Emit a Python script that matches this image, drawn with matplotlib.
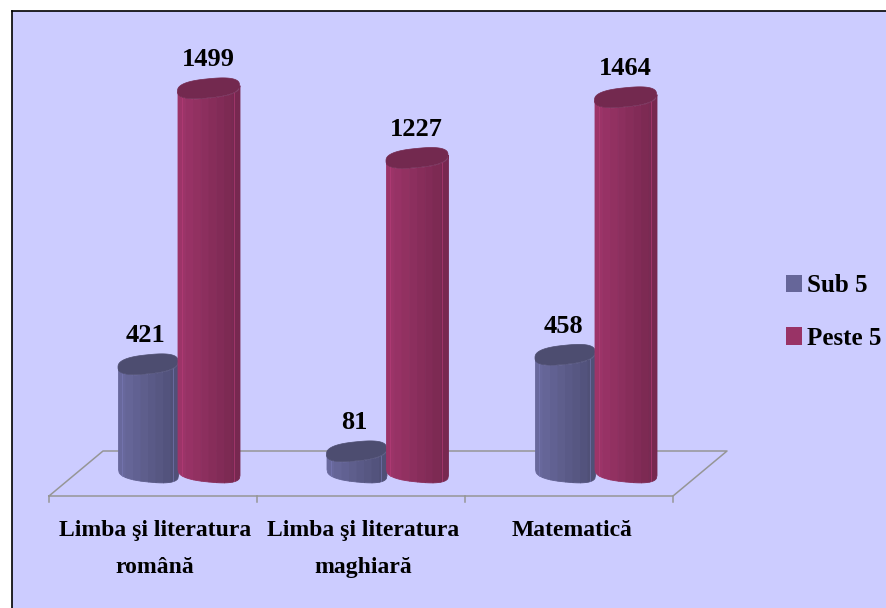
import matplotlib
matplotlib.use("Agg")
import matplotlib.pyplot as plt
from matplotlib.patches import Patch, Polygon
from matplotlib.colors import to_rgb
import numpy as np

categories = ["Limba şi literatura\nromână", "Limba şi literatura\nmaghiară", "Matematică"]
series_names = ["Sub 5", "Peste 5"]
sub5 = [421, 81, 458]
peste5 = [1499, 1227, 1464]

BG = "#CCCCFF"
COLORS = ["#666699", "#993366"]
TOPS = ["#4D4D70", "#73294F"]
GREY = "#969696"

# one category is 208.5 px wide, one value unit is 0.256 px high
W, H = 886, 608
LEFT, TOP = 12, 11
PX_X = 208.5
PX_Y = 0.256
X0_PX, Y0_PX = 178, 472

plt.rcParams["font.family"] = ["Liberation Serif", "DejaVu Serif"]
plt.rcParams["font.weight"] = "bold"

fig = plt.figure(figsize=(W / 100, H / 100), dpi=100, facecolor="white")
ax = fig.add_axes([LEFT / W, 0, (W - LEFT) / W, (H - TOP) / H], facecolor=BG)
ax.set_xlim((LEFT - X0_PX) / PX_X, (W - X0_PX) / PX_X)
ax.set_ylim((Y0_PX - H) / PX_Y, (Y0_PX - TOP) / PX_Y)
ax.set_xticks([])
ax.set_yticks([])
for s in ax.spines.values():
    s.set_color("black")
    s.set_linewidth(1.2)
ax.spines["right"].set_visible(False)
ax.spines["bottom"].set_visible(False)

# floor of the 3d box
dx = 1 / PX_X
dy = 1 / PX_Y
fl_bottom = -24 * dy
fl_back = 21 * dy
floor_x = [-129 * dx, -75 * dx, 549 * dx, 495 * dx, -129 * dx]
floor_y = [fl_bottom, fl_back, fl_back, fl_bottom, fl_bottom]
ax.plot(floor_x, floor_y, color=GREY, lw=1.1, zorder=1)
for i in range(len(categories) + 1):
    xt = floor_x[0] + i * (floor_x[3] - floor_x[0]) / len(categories)
    ax.plot([xt, xt], [fl_bottom, fl_bottom - 6 * dy], color=GREY, lw=1.1, zorder=1)


def shade(c, f):
    r = np.array(to_rgb(c)) * f
    return tuple(np.clip(r, 0, 1))


def rim(t):
    # flatter than an ellipse, the original cylinders look a bit squared
    return (1 - np.abs(t) ** 2.6) ** (1 / 2.6)


def cylinder(x, v, width, color, top_color, z):
    ex = width / 2
    ey = 9.5 * dy
    tilt = 3 * dy
    bands = 8
    edges = np.linspace(-1, 1, bands + 1)
    for i in range(bands):
        t = np.linspace(edges[i], edges[i + 1], 12)
        lower = -ey * rim(t) - tilt * t
        upper = v - ey * rim(t) + tilt * t
        # wide facets, lighter on the left and darker towards the right
        f = 1.02 - 0.24 * i / (bands - 1)
        c = shade(color, f)
        ax.fill_between(x + t * ex, lower, upper, facecolor=c, edgecolor=c, lw=0.6, zorder=z)
    # thin light lines near both edges of the cylinder
    for t0 in (-0.86, 0.82):
        t = np.array([t0])
        ax.plot([x + t0 * ex] * 2, [(-ey * rim(t) - tilt * t)[0], (v - ey * rim(t) + tilt * t)[0]],
                color=shade(color, 1.2), lw=0.6, alpha=0.7, zorder=z + 0.2)
    a = np.linspace(0, 2 * np.pi, 120)
    ca, sa = np.cos(a), np.sin(a)
    top_x = x + ex * np.sign(ca) * np.abs(ca) ** (2 / 2.6)
    top_y = v + ey * np.sign(sa) * np.abs(sa) ** (2 / 2.6) + tilt * np.sign(ca) * np.abs(ca) ** (2 / 2.6)
    ax.add_patch(Polygon(np.column_stack([top_x, top_y]), closed=True,
                         facecolor=top_color, edgecolor=top_color, lw=0.5, zorder=z + 0.5))


for i in range(len(categories)):
    cylinder(i - 30 * dx, sub5[i], 60 * dx, COLORS[0], TOPS[0], 3)
    cylinder(i + 30.5 * dx, peste5[i], 62 * dx, COLORS[1], TOPS[1], 4)
    ax.text(i - 32 * dx, sub5[i] + 17 * dy, str(sub5[i]), ha="center", va="bottom",
            fontsize=19, color="black", zorder=6)
    ax.text(i + 30 * dx, peste5[i] + 17 * dy, str(peste5[i]), ha="center", va="bottom",
            fontsize=19, color="black", zorder=6)
    ax.text(i - 23 * dx, -48 * dy, categories[i], ha="center", va="top",
            fontsize=17, color="black", linespacing=2.0)

handles = [Patch(facecolor=COLORS[0], label=series_names[0]),
           Patch(facecolor=COLORS[1], label=series_names[1])]
ax.legend(handles=handles, loc="center left", bbox_to_anchor=((786 - LEFT) / (W - LEFT), (H - 312) / (H - TOP)),
          frameon=False, prop={"size": 18, "weight": "bold"}, handlelength=0.64, handleheight=0.72,
          handletextpad=0.2, labelspacing=1.18, borderpad=0, borderaxespad=0)

fig.savefig("out.png", dpi=100, facecolor="white")
